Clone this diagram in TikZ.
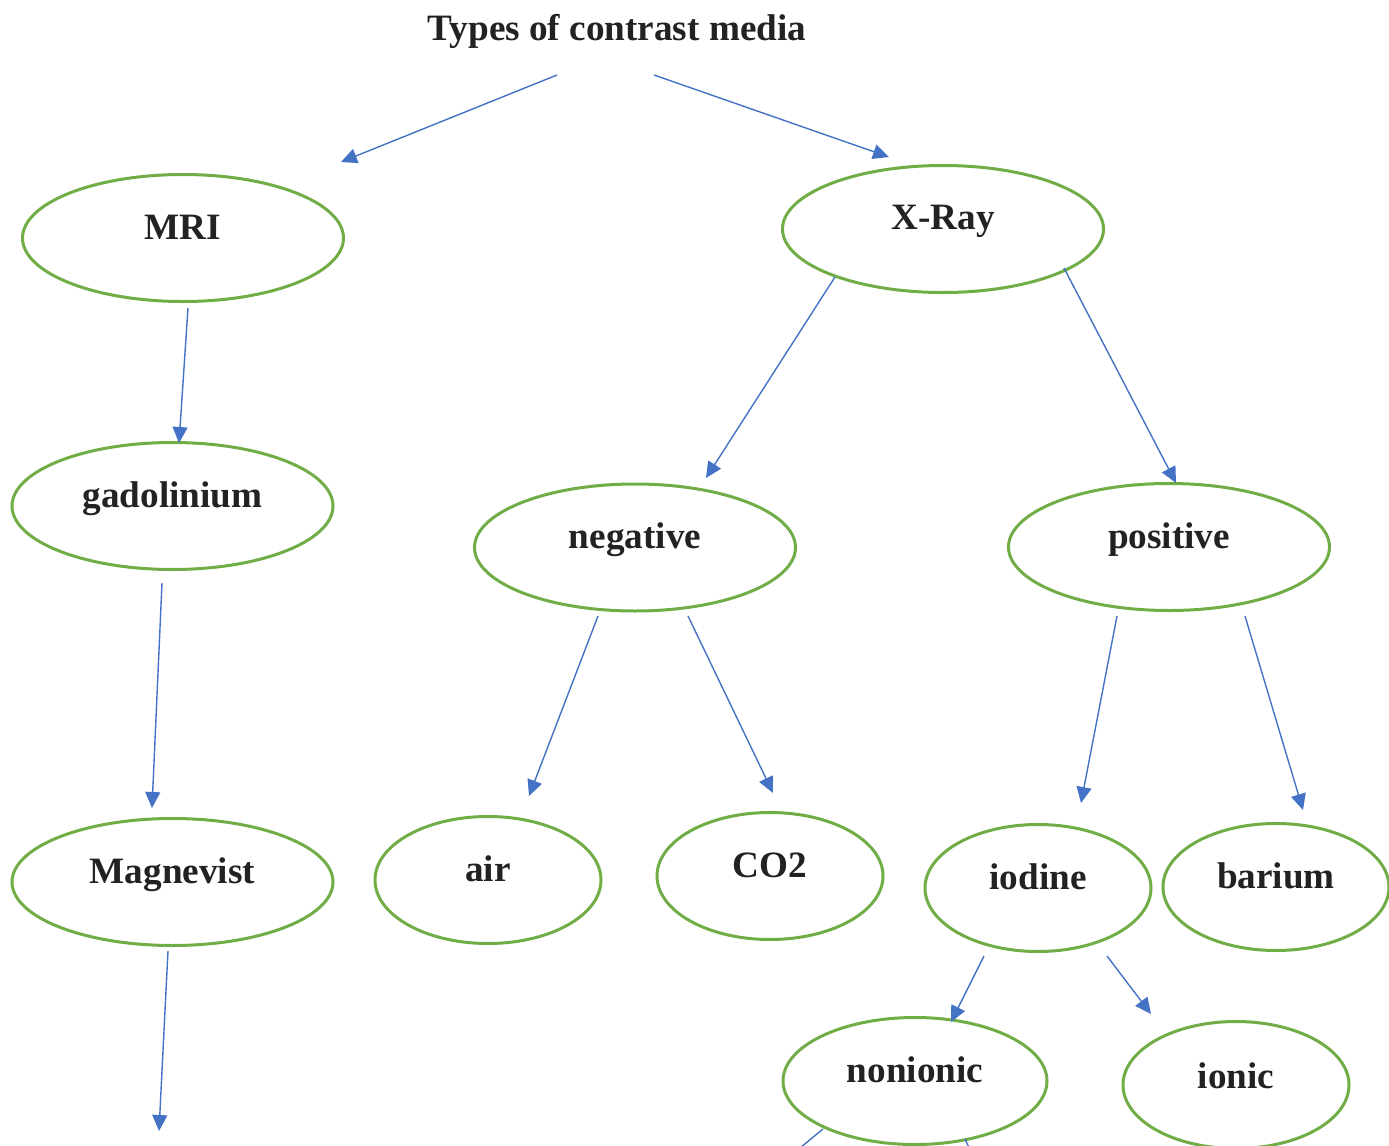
\documentclass[tikz,border=0pt]{standalone}
\usepackage{fontspec}
\setmainfont{Liberation Serif}
\usetikzlibrary{shapes.geometric,arrows.meta}
\definecolor{edgeblue}{HTML}{4472C4}
\definecolor{ellgreen}{HTML}{70AD47}
\definecolor{txt}{HTML}{222222}
\begin{document}
\begin{tikzpicture}[x=0.5pt,y=-0.5pt,
  ell/.style={ellipse,draw=ellgreen,line width=1.5pt,minimum width=160.5pt,minimum height=63.5pt,inner sep=0pt},
  sell/.style={ell,minimum width=113pt},
  lab/.style={anchor=base,text=txt,font=\fontsize{18.6}{22}\selectfont\bfseries,inner sep=0pt},
  conn/.style={draw=edgeblue,line width=0.7pt,-{Triangle[length=8pt,width=7.5pt]}},
  plain/.style={draw=edgeblue,line width=0.7pt}]
\useasboundingbox (0,0) rectangle (1389,1146);
\clip (0,0) rectangle (1389,1146);
% ellipses
\node[ell] (mri) at (183,238) {};
\node[ell] (xray) at (943,229) {};
\node[ell] (gad) at (172.5,506) {};
\node[ell] (neg) at (635,547.5) {};
\node[ell] (pos) at (1169,547) {};
\node[ell] (mag) at (172.5,882) {};
\node[sell] (air) at (488,880) {};
\node[sell] (co2) at (770,876) {};
\node[sell] (iod) at (1038,888) {};
\node[sell] (bar) at (1276,887) {};
\node[ell,minimum width=132pt] (non) at (915,1081) {};
\node[sell] (ion) at (1236,1085) {};
% labels
\node[lab] (title) at (617,40) {Types of contrast media};
\node[lab] (tmri) at (183,239) {MRI};
\node[lab] (txray) at (943,229) {X-Ray};
\node[lab] (tgad) at (172.5,507) {gadolinium};
\node[lab] (tneg) at (635,548) {negative};
\node[lab] (tpos) at (1169,548) {positive};
\node[lab] (tmag) at (172.5,883) {Magnevist};
\node[lab] (tair) at (488,881) {air};
\node[lab] (tco2) at (770,877) {CO2};
\node[lab] (tiod) at (1038,889) {iodine};
\node[lab] (tbar) at (1276,888) {barium};
\node[lab] (tnon) at (915,1082) {nonionic};
\node[lab] (tion) at (1236,1088) {ionic};
% connector end points
\coordinate (a1s) at (557,75);   \coordinate (a1e) at (341,162);
\coordinate (a2s) at (654,75);   \coordinate (a2e) at (889,157);
\coordinate (a3s) at (188,308);  \coordinate (a3e) at (179,443);
\coordinate (a4s) at (162,583);  \coordinate (a4e) at (152,808);
\coordinate (a5s) at (168,951);  \coordinate (a5e) at (159,1131);
\coordinate (a6s) at (835,277);  \coordinate (a6e) at (706,478);
\coordinate (a7s) at (1064,268); \coordinate (a7e) at (1176,483);
\coordinate (a8s) at (598,616);  \coordinate (a8e) at (529,796);
\coordinate (a9s) at (688,616);  \coordinate (a9e) at (773,793);
\coordinate (a10s) at (1117,616); \coordinate (a10e) at (1081,803);
\coordinate (a11s) at (1245,616); \coordinate (a11e) at (1303,810);
\coordinate (a12s) at (984,956);  \coordinate (a12e) at (951,1022);
\coordinate (a13s) at (1107,956); \coordinate (a13e) at (1151,1014);
\coordinate (a14s) at (823,1129); \coordinate (a14e) at (795,1152);
\coordinate (a15s) at (965,1139); \coordinate (a15e) at (971,1152);
% connectors
\draw[conn] (a1s) -- (a1e);
\draw[conn] (a2s) -- (a2e);
\draw[conn] (a3s) -- (a3e);
\draw[conn] (a4s) -- (a4e);
\draw[conn] (a5s) -- (a5e);
\draw[conn] (a6s) -- (a6e);
\draw[conn] (a7s) -- (a7e);
\draw[conn] (a8s) -- (a8e);
\draw[conn] (a9s) -- (a9e);
\draw[conn] (a10s) -- (a10e);
\draw[conn] (a11s) -- (a11e);
\draw[conn] (a12s) -- (a12e);
\draw[conn] (a13s) -- (a13e);
\draw[plain] (a14s) -- (a14e);
\draw[plain] (a15s) -- (a15e);
\end{tikzpicture}
\end{document}
